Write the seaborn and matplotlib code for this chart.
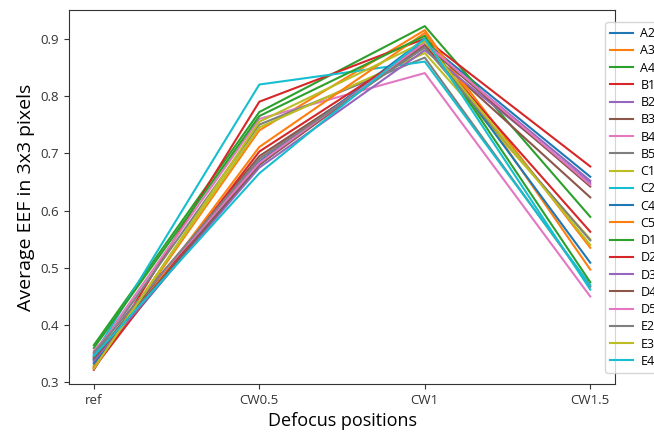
import pandas as pd
import seaborn as sns
import matplotlib.pyplot as plt

positions = ['ref', 'CW0.5', 'CW1', 'CW1.5']
fields = ['A2', 'A3', 'A4', 'B1', 'B2', 'B3', 'B4', 'B5', 'C1', 'C2',
          'C4', 'C5', 'D1', 'D2', 'D3', 'D4', 'D5', 'E2', 'E3', 'E4']

# EEF values (ref, CW0.5, CW1, CW1.5)
eef_ref  = [0.340, 0.328, 0.365, 0.322, 0.336, 0.344, 0.350, 0.345, 0.330, 0.348,
            0.333, 0.326, 0.360, 0.325, 0.338, 0.342, 0.355, 0.352, 0.324, 0.346]
eef_cw05 = [0.685, 0.740, 0.772, 0.790, 0.690, 0.695, 0.760, 0.750, 0.745, 0.820,
            0.680, 0.711, 0.765, 0.703, 0.675, 0.680, 0.683, 0.690, 0.755, 0.665]
eef_cw1  = [0.895, 0.915, 0.922, 0.900, 0.890, 0.885, 0.840, 0.867, 0.875, 0.860,
            0.900, 0.910, 0.905, 0.890, 0.880, 0.890, 0.893, 0.885, 0.895, 0.900]
eef_cw15 = [0.659, 0.497, 0.589, 0.677, 0.652, 0.623, 0.450, 0.467, 0.550, 0.470,
            0.509, 0.535, 0.475, 0.563, 0.648, 0.642, 0.645, 0.548, 0.540, 0.462]

rows = []
for i, f in enumerate(fields):
    for pos, vals in zip(positions, [eef_ref, eef_cw05, eef_cw1, eef_cw15]):
        rows.append({'pos': pos, 'field': f, 'eef': vals[i]})
df = pd.DataFrame(rows)

plt.rcParams['font.family'] = ['Open Sans', 'DejaVu Sans']
fig = plt.figure(figsize=(6.54, 4.38), dpi=100)
ax = fig.add_axes([0.1055, 0.123, 0.835, 0.854])

sns.lineplot(data=df, x='pos', y='eef', hue='field', hue_order=fields,
             palette=sns.color_palette('tab10', 20), sort=False, linewidth=1.5, ax=ax)

ax.set_ylim(0.297, 0.95)
ax.set_yticks([0.3, 0.4, 0.5, 0.6, 0.7, 0.8, 0.9])
ax.set_xlabel('Defocus positions', fontsize=13)
ax.set_ylabel('Average EEF in 3x3 pixels', fontsize=14)
ax.tick_params(labelsize=9.5, colors='#333333')
for s in ax.spines.values():
    s.set_color('#333333')

# legend sits past the right spine and runs off the figure, as in the original
ax.legend(loc='upper left', bbox_to_anchor=(0.982, 0.968), fontsize=9,
          labelspacing=0.34, handlelength=1.8, handletextpad=0.6, borderaxespad=0)

fig.savefig('out.png', dpi=100)
